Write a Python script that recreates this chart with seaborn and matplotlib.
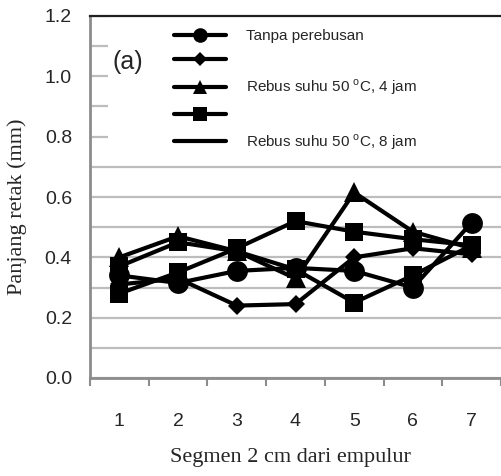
import numpy as np
import pandas as pd
import matplotlib
matplotlib.use("Agg")
import matplotlib.pyplot as plt
from matplotlib.lines import Line2D
from matplotlib.patches import Rectangle
import seaborn as sns

# data
segmen = [1, 2, 3, 4, 5, 6, 7]
tanpa_rebus = [0.34, 0.315, 0.355, 0.365, 0.355, 0.30, 0.515]
seri_belah_ketupat = [0.31, 0.33, 0.24, 0.245, 0.40, 0.43, 0.41]
rebus_4jam = [0.40, 0.47, 0.42, 0.33, 0.615, 0.485, 0.43]
seri_kotak = [0.28, 0.35, 0.43, 0.52, 0.485, 0.46, 0.44]
rebus_8jam = [0.37, 0.45, 0.42, 0.36, 0.25, 0.34, 0.44]

legend_labels = ["Tanpa perebusan", "", "Rebus suhu 50 $^{\\rm o}$C, 4 jam", "",
                 "Rebus suhu 50 $^{\\rm o}$C, 8 jam"]
y_ticks = [0.0, 0.2, 0.4, 0.6, 0.8, 1.0, 1.2]

sns.set_style("white")
plt.rcParams["font.family"] = ["Liberation Sans", "DejaVu Sans"]
plt.rcParams["mathtext.fontset"] = "custom"
plt.rcParams["mathtext.rm"] = "Liberation Sans"

series = [
    (tanpa_rebus, "o", 15),
    (seri_belah_ketupat, "D", 9.5),
    (rebus_4jam, "^", 14),
    (seri_kotak, "s", 13.5),
    (rebus_8jam, "s", 13.5),
]

fig = plt.figure(figsize=(5.01, 4.76), dpi=100)
ax = fig.add_axes([90 / 501, 1 - 378 / 476, 411 / 501, 362 / 476])

for vals, mk, ms in series:
    df = pd.DataFrame({"segmen": segmen, "panjang": vals})
    sns.lineplot(data=df, x="segmen", y="panjang", ax=ax, color="black",
                 marker=mk, markersize=ms, markeredgewidth=0, linewidth=3,
                 sort=False, zorder=3)

ax.set_xlim(0.5, 0.5 + 411 / 59)
ax.set_ylim(0, 1.2)

# gridlines every 0.1, labels every 0.2
ax.set_yticks(y_ticks)
ax.set_yticklabels([f"{t:.1f}" for t in y_ticks])
ax.set_yticks(np.arange(0.1, 1.2, 0.2), minor=True)
ax.grid(which="both", axis="y", color="#bdbdbd", linewidth=1.6, zorder=0)
ax.grid(False, axis="x")
ax.tick_params(axis="y", which="both", length=0, pad=13, labelsize=14)

ax.set_xticks(segmen)
ax.set_xticklabels([str(s) for s in segmen])
ax.set_xticks(np.arange(0.5, 8, 1), minor=True)
ax.tick_params(axis="x", which="major", length=0, pad=25, labelsize=14)
ax.tick_params(axis="x", which="minor", length=6, width=1.5, color="#8c8c8c",
               direction="out", bottom=True)

for side in ["left", "bottom"]:
    ax.spines[side].set_color("#8c8c8c")
    ax.spines[side].set_linewidth(2)
ax.spines["top"].set_color("#202020")
ax.spines["top"].set_linewidth(1.6)
ax.spines["right"].set_visible(False)

ax.set_xlabel("Segmen 2 cm dari empulur", family="Liberation Serif", fontsize=16)
ax.set_ylabel("Panjang retak (mm)", family="Liberation Serif", fontsize=16,
              va="center")
ax.xaxis.set_label_coords((290 - 90) / 411, (378 - 448) / 362)
ax.yaxis.set_label_coords((17 - 90) / 411, (378 - 207) / 362)

# white panel behind the legend
ax.add_patch(Rectangle((18 / 411, (378 - 160) / 362), 1, 1, transform=ax.transAxes,
                       facecolor="white", edgecolor="none", zorder=1))

handles = [
    Line2D([], [], color="black", lw=3, marker="o", markersize=10.5, markeredgewidth=0),
    Line2D([], [], color="black", lw=3, marker="D", markersize=7, markeredgewidth=0),
    Line2D([], [], color="black", lw=3, marker="^", markersize=9.5, markeredgewidth=0),
    Line2D([], [], color="black", lw=3, marker="s", markersize=9.5, markeredgewidth=0),
    Line2D([], [], color="black", lw=3),
]
leg = ax.legend(handles, legend_labels, loc="upper left",
                bbox_to_anchor=((172 - 90) / 411 - 0.026, 1.0), frameon=False,
                fontsize=11, handlelength=3.4, handletextpad=1.3,
                labelspacing=0.68, borderpad=0.85, borderaxespad=0)
leg.set_zorder(4)

ax.text((113 - 90) / 411, (378 - 62) / 362, "(a)", transform=ax.transAxes,
        fontsize=18, ha="left", va="center", zorder=4)

fig.savefig("out.png", dpi=100)
